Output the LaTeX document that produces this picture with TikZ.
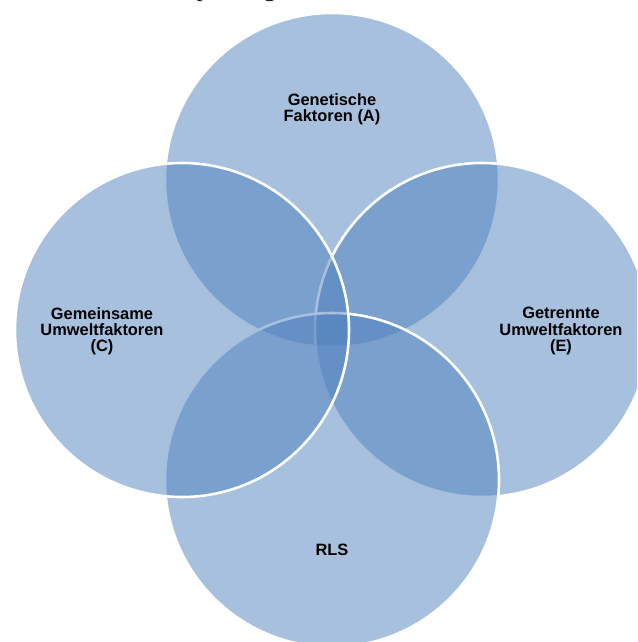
\documentclass[tikz,border=0pt]{standalone}
\usepackage{fontspec}
\setmainfont{Liberation Sans}
\newfontfamily\captionserif{Liberation Serif}
\usepackage{xcolor}
\usepackage{tikz}
\definecolor{vennblue}{HTML}{4F81BD}
\usetikzlibrary{positioning}

\begin{document}
\begin{tikzpicture}[x=0.03cm, y=-0.03cm,
    venncircle/.style={fill=vennblue, fill opacity=0.5, draw=white, line width=2.2pt},
    venntext/.style={align=center, inner sep=0pt, font=\fontsize{14}{13.7}\selectfont\bfseries}]
    \useasboundingbox (0,0) rectangle (637,642);
    \clip (0,0) rectangle (637,642); % page edge cuts the outer circles
    \node[anchor=base, font=\captionserif\fontsize{20.5}{24}\selectfont] (capp) at (203,-4) {p}; % cut-off caption line
    \node[anchor=base, font=\captionserif\fontsize{20.5}{24}\selectfont] (capg) at (270,-4) {g};
    \draw[venncircle] (332,180) circle (167); % A
    \draw[venncircle] (482,330) circle (167); % E
    \draw[venncircle] (332,480) circle (167); % RLS
    \draw[venncircle] (182,330) circle (167); % C
    \node[venntext] (genetic) at (332,109) {Genetische\\Faktoren (A)};
    \node[venntext] (shared) at (102,331) {Gemeinsame\\Umweltfaktoren\\(C)};
    \node[venntext] (separate) at (561,331) {Getrennte\\Umweltfaktoren\\(E)};
    \node[venntext] (rls) at (332,550) {RLS};
\end{tikzpicture}
\end{document}
